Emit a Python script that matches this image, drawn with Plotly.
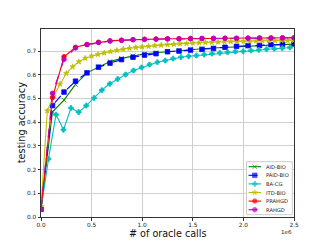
import plotly.graph_objects as go

# x values in units of 1e6 oracle calls
x_grid23 = [0, 0.1136, 0.2273, 0.3409, 0.4545, 0.5682, 0.6818, 0.7955, 0.9091, 1.0227,
            1.1364, 1.25, 1.3636, 1.4773, 1.5909, 1.7045, 1.8182, 1.9318, 2.0455, 2.1591,
            2.2727, 2.3864, 2.5]
x_itd = [0, 0.0625, 0.125, 0.1875, 0.25, 0.3125, 0.375, 0.4375, 0.5, 0.5625, 0.625, 0.6875,
         0.75, 0.8125, 0.875, 0.9375, 1.0, 1.0625, 1.125, 1.1875, 1.25, 1.3125, 1.375, 1.4375,
         1.5, 1.5625, 1.625, 1.6875, 1.75, 1.8125, 1.875, 1.9375, 2.0, 2.0625, 2.125, 2.1875,
         2.25, 2.3125, 2.375, 2.4375, 2.5]
x_bacg = [0, 0.074, 0.148, 0.222, 0.296, 0.372, 0.447, 0.524, 0.601, 0.679, 0.757, 0.836,
          0.914, 0.994, 1.072, 1.15, 1.228, 1.305, 1.382, 1.459, 1.536, 1.613, 1.69, 1.767,
          1.844, 1.921, 1.998, 2.075, 2.152, 2.229, 2.306, 2.383, 2.46]

aid_bio = [0.033, 0.444, 0.493, 0.559, 0.608, 0.633, 0.656, 0.669, 0.680, 0.688, 0.693, 0.698,
           0.702, 0.706, 0.710, 0.713, 0.716, 0.719, 0.721, 0.723, 0.725, 0.727, 0.729]
paid_bio = [0.033, 0.470, 0.527, 0.573, 0.608, 0.632, 0.649, 0.664, 0.674, 0.683, 0.689, 0.697,
            0.700, 0.704, 0.707, 0.711, 0.716, 0.720, 0.723, 0.724, 0.727, 0.729, 0.730]
ba_cg = [0.033, 0.245, 0.432, 0.368, 0.460, 0.442, 0.470, 0.502, 0.535, 0.562, 0.582, 0.601,
         0.618, 0.631, 0.643, 0.653, 0.660, 0.668, 0.674, 0.678, 0.681, 0.685, 0.689, 0.692,
         0.695, 0.698, 0.699, 0.702, 0.705, 0.708, 0.710, 0.712, 0.715]
itd_bio = [0.045, 0.448, 0.510, 0.561, 0.606, 0.634, 0.655, 0.670, 0.679, 0.686, 0.692, 0.698,
           0.703, 0.708, 0.712, 0.715, 0.718, 0.720, 0.723, 0.725, 0.727, 0.729, 0.731, 0.732,
           0.734, 0.735, 0.736, 0.737, 0.738, 0.739, 0.740, 0.741, 0.741, 0.742, 0.743, 0.743,
           0.744, 0.744, 0.745, 0.745, 0.746]
prahgd = [0.033, 0.504, 0.676, 0.716, 0.728, 0.737, 0.743, 0.746, 0.748, 0.750, 0.751, 0.752,
          0.752, 0.753, 0.753, 0.754, 0.754, 0.754, 0.755, 0.755, 0.755, 0.756, 0.756]
rahgd = [0.033, 0.522, 0.665, 0.713, 0.727, 0.736, 0.742, 0.745, 0.748, 0.749, 0.750, 0.751,
         0.752, 0.752, 0.753, 0.753, 0.754, 0.754, 0.754, 0.755, 0.755, 0.755, 0.756]

y_ticks = [0.0, 0.1, 0.2, 0.3, 0.4, 0.5, 0.6, 0.7]
x_ticks = [0.0, 0.5, 1.0, 1.5, 2.0, 2.5]

series = [
    ("AID-BIO", x_grid23, aid_bio, "#008000", "solid", "x-thin", 4.5),
    ("PAID-BIO", x_grid23, paid_bio, "#0000ff", "dash", "square", 4.5),
    ("BA-CG", x_bacg, ba_cg, "#00bfbf", "solid", "cross", 4),
    ("ITD-BIO", x_itd, itd_bio, "#bfbf00", "solid", "star", 4),
    ("PRAHGD", x_grid23, prahgd, "#ff0000", "solid", "circle", 4.5),
    ("RAHGD", x_grid23, rahgd, "#bf00bf", "dash", "circle", 4.5),
]

FONT = "DejaVu Sans"
fig = go.Figure()
for name, xs, ys, col, dash, sym, ms in series:
    fig.add_trace(go.Scatter(
        x=xs, y=ys, name=name, mode="lines+markers", showlegend=False,
        line=dict(color=col, width=1.1, dash=dash),
        marker=dict(symbol=sym, size=ms, color=col, line=dict(color=col, width=0.8)),
    ))

# compact legend drawn on an overlay axis measured in pixels of the figure
BOX_X = [246.5, 292.3, 292.3, 246.5, 246.5]
BOX_Y = [162.0, 162.0, 215.0, 215.0, 162.0]
L_X0, L_X1, L_XM, L_TX = 248.5, 261.0, 254.7, 264.0
L_Y0, L_DY = 167.0, 8.6
fig.add_trace(go.Scatter(
    x=BOX_X, y=BOX_Y, xaxis="x2", yaxis="y2", mode="lines", fill="toself",
    fillcolor="rgba(255,255,255,0.9)", line=dict(color="#cccccc", width=1),
    showlegend=False, hoverinfo="skip",
))
annotations = []
for i, (name, xs, ys, col, dash, sym, ms) in enumerate(series):
    yy = L_Y0 + L_DY * i
    fig.add_trace(go.Scatter(
        x=[L_X0, L_XM, L_X1], y=[yy, yy, yy], xaxis="x2", yaxis="y2",
        mode="lines+markers", showlegend=False, hoverinfo="skip",
        line=dict(color=col, width=1.1, dash=dash),
        marker=dict(symbol=sym, size=[0, ms, 0], color=col, line=dict(color=col, width=0.8)),
    ))
    annotations.append(dict(text=name, xref="x2", yref="y2", x=L_TX, y=yy, xanchor="left",
                            yanchor="middle", showarrow=False,
                            font=dict(family=FONT, size=5.2, color="#222222")))

annotations += [
    dict(text="1e6", xref="paper", yref="paper", x=0.972, y=-0.078, xanchor="center",
         yanchor="middle", showarrow=False, font=dict(family=FONT, size=5.5, color="#222222")),
    dict(text="# of oracle calls", xref="paper", yref="paper", x=0.5, y=-0.086,
         xanchor="center", yanchor="middle", showarrow=False,
         font=dict(family=FONT, size=9.6, color="#111111")),
    dict(text="testing accuracy", xref="paper", yref="paper", x=-0.078, y=0.5,
         xanchor="center", yanchor="middle", textangle=-90, showarrow=False,
         font=dict(family=FONT, size=9.8, color="#111111")),
]

axis_common = dict(
    showline=True, linecolor="#333333", linewidth=1, mirror=True,
    showgrid=True, gridcolor="#cfcfcf", gridwidth=1,
    ticks="outside", ticklen=2.5, tickcolor="#333333",
    tickfont=dict(family=FONT, size=5.8, color="#222222"),
    zeroline=False, automargin=False,
)

fig.update_layout(
    width=327, height=245,
    margin=dict(l=41, r=33, t=29, b=28),
    paper_bgcolor="white", plot_bgcolor="white",
    showlegend=False,
    xaxis=dict(range=[0, 2.5], tickvals=x_ticks, ticktext=[f"{v:.1f}" for v in x_ticks],
               **axis_common),
    yaxis=dict(range=[0, 0.793], tickvals=y_ticks, ticktext=[f"{v:.1f}" for v in y_ticks],
               **axis_common),
    xaxis2=dict(overlaying="x", range=[40.7, 294.0], visible=False, fixedrange=True),
    yaxis2=dict(overlaying="y", range=[217.3, 29.3], visible=False, fixedrange=True),
    annotations=annotations,
)

fig.write_html("out.html", config={"displayModeBar": False},
               post_script="document.body.style.margin='0';")
